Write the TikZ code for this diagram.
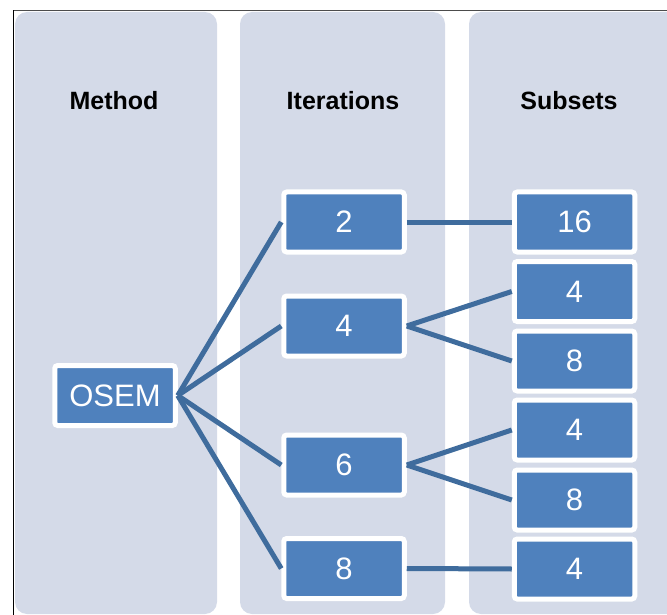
\documentclass[tikz,border=0pt]{standalone}
\usepackage{fontspec}
\setmainfont{Liberation Sans}
\definecolor{colfill}{HTML}{D4DAE8}
\definecolor{boxblue}{HTML}{4F81BD}
\definecolor{linkblue}{HTML}{3F6C9D}
\begin{document}
\begin{tikzpicture}[x=1pt,y=1pt]
\tikzstyle{every node}+=[inner sep=0pt]
\tikzstyle{colbox}=[fill=colfill, rounded corners=12pt]
\tikzstyle{box}=[draw=white, line width=5pt, fill=boxblue, rounded corners=3pt, minimum width=120.5pt, minimum height=60pt, text=white, font=\fontsize{31}{31}\selectfont]
\tikzstyle{title}=[anchor=base, font=\bfseries\fontsize{25}{25}\selectfont]
\tikzstyle{link}=[draw=linkblue, line width=5pt]
\useasboundingbox (0,0) rectangle (667,-615);
\fill [colbox] (15,-12) rectangle (217,-614);
\fill [colbox] (240,-12) rectangle (445,-614);
\fill [colbox] (469,-12) rectangle (690,-614);
\draw [black!70, line width=1.5pt] (13,-10.5) -- (667,-10.5);
\draw [black, line width=0.8pt] (13,-10.5) -- (13,-615);
\node [title] (method) at (114,-110) {Method};
\node [title] (iterations) at (343,-110) {Iterations};
\node [title] (subsets) at (569,-110) {Subsets};
\node [box] (osem) at (115,-395.5) {OSEM};
\node [box] (it2) at (344,-222) {2};
\node [box] (it4) at (344,-326) {4};
\node [box] (it6) at (344,-465) {6};
\node [box] (it8) at (344,-568.5) {8};
\node [box] (sub16) at (574.5,-222) {16};
\node [box] (sub4a) at (574.5,-291.5) {4};
\node [box] (sub8a) at (574.5,-361) {8};
\node [box] (sub4b) at (574.5,-430) {4};
\node [box] (sub8b) at (574.5,-500) {8};
\node [box] (sub4c) at (574.5,-569) {4};
\draw [link] (osem.east) -- (it2.west);
\draw [link] (osem.east) -- (it4.west);
\draw [link] (osem.east) -- (it6.west);
\draw [link] (osem.east) -- (it8.west);
\draw [link] (it2.east) -- (sub16.west);
\draw [link] (it4.east) -- (sub4a.west);
\draw [link] (it4.east) -- (sub8a.west);
\draw [link] (it6.east) -- (sub4b.west);
\draw [link] (it6.east) -- (sub8b.west);
\draw [link] (it8.east) -- (sub4c.west);
\end{tikzpicture}
\end{document}
